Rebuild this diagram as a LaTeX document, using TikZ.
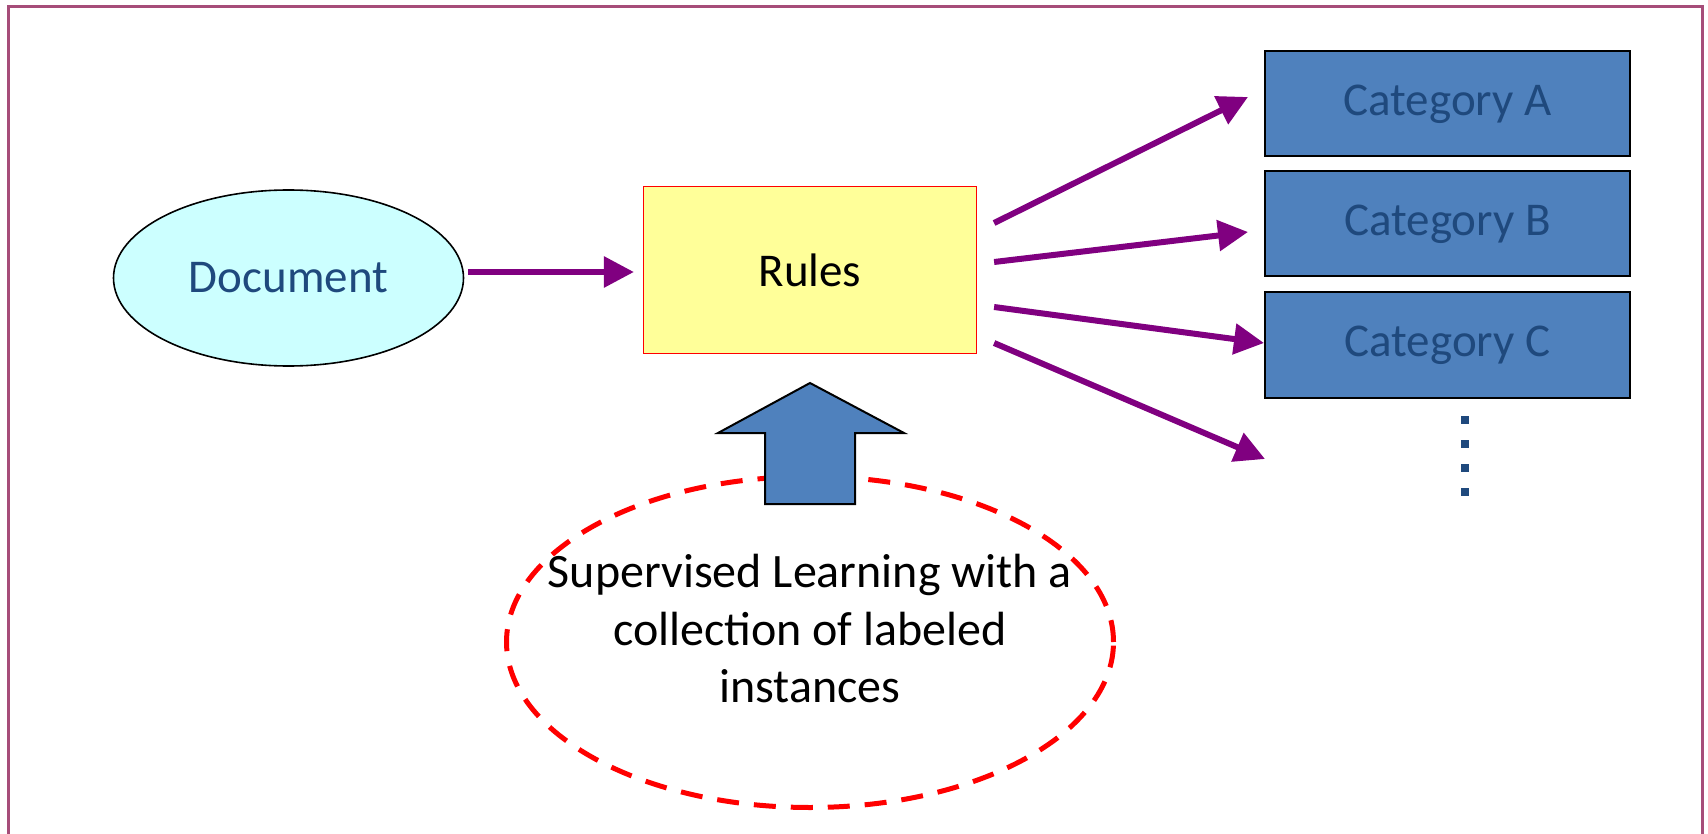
\documentclass[tikz,border=0pt]{standalone}
\usepackage{fontspec}
\setmainfont{Carlito}
\usetikzlibrary{calc, arrows.meta, shapes.geometric}
\definecolor{docblue}{RGB}{31,73,125}
\definecolor{catfill}{RGB}{79,129,189}
\definecolor{docfill}{RGB}{204,255,255}
\definecolor{rulefill}{RGB}{255,255,153}
\definecolor{flowpurple}{RGB}{128,0,128}
\definecolor{framepink}{RGB}{166,77,121}
\tikzset{
  docnode/.style={ellipse, draw=black, line width=0.8pt, fill=docfill, text=docblue,
    minimum width=175pt, minimum height=88pt, inner sep=0pt},
  rulebox/.style={rectangle, draw=red, line width=0.6pt, fill=rulefill,
    minimum width=166.5pt, minimum height=83.5pt, inner sep=0pt},
  catbox/.style={rectangle, draw=black, line width=1pt, fill=catfill, text=docblue,
    minimum width=182.5pt, minimum height=52.5pt, inner sep=0pt},
  learnnode/.style={ellipse, draw=red, line width=2.5pt, dash pattern=on 11pt off 7.5pt,
    minimum width=303.5pt, minimum height=165.5pt, inner sep=0pt},
  learntext/.style={align=center, inner sep=0pt, font=\fontsize{24}{28.75}\selectfont},
  flow/.style={draw=flowpurple, line width=3pt, -{Triangle[length=15pt,width=15pt]}}
}
\begin{document}
\begin{tikzpicture}[x=0.5pt, y=-0.5pt, font=\fontsize{23.5}{28.5}\selectfont]
\useasboundingbox (0,0) rectangle (1708,834);
\draw[framepink, line width=1.5pt] (8,834) -- (8,7) -- (1702,7) -- (1702,834);

\node[docnode] (doc) at (288.5,278) {Document};
\node[rulebox] (rules) at (810,270) {Rules};
\foreach \c/\y in {A/104,B/224,C/345}{
    \node[catbox] (cat\c) at (1447.5,\y) {Category \c};
}
\coordinate (more) at (1265,459);

\node[learnnode] (learn) at (810,642) {};
\node[learntext] (learntxt) at (810,629) {Supervised Learning with a\\collection of labeled\\instances};
\draw[fill=catfill, line width=1pt, line join=miter] (810,383) -- (904,433) -- (855,433) -- (855,504)
    -- (765,504) -- (765,433) -- (718,433) -- cycle;

\foreach \y in {420,444,468,492}{
    \fill[docblue] (1465,\y) ++(-4,-4) rectangle ++(8,8);
}

\draw[flow] ([xshift=2pt,yshift=3pt]doc.east) -- ([xshift=-4.5pt,yshift=-1pt]rules.west);
\draw[flow] ([xshift=8.5pt,yshift=23.5pt]rules.east) -- ([xshift=-8pt,yshift=3.5pt]catA.west);
\draw[flow] ([xshift=8.5pt,yshift=4pt]rules.east) -- ([xshift=-8pt,yshift=-4pt]catB.west);
\draw[flow] ([xshift=8.5pt,yshift=-18.5pt]rules.east) -- ([yshift=1pt]catC.west);
\draw[flow] ([xshift=8.5pt,yshift=-36.5pt]rules.east) -- (more);
\end{tikzpicture}
\end{document}
